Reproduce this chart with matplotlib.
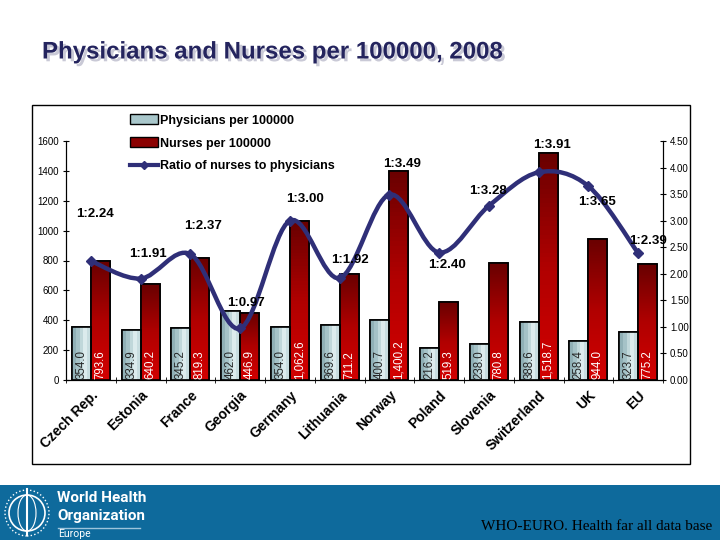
import matplotlib.pyplot as plt
import matplotlib.patheffects as pe
import numpy as np
from matplotlib.patches import Rectangle, Patch, Ellipse, PathPatch
from matplotlib.lines import Line2D
from matplotlib.path import Path
from matplotlib.colors import LinearSegmentedColormap

plt.rcParams['font.family'] = ['Liberation Sans', 'DejaVu Sans']

# ---------------- data ----------------
countries = ['Czech Rep.', 'Estonia', 'France', 'Georgia', 'Germany', 'Lithuania',
             'Norway', 'Poland', 'Slovenia', 'Switzerland', 'UK', 'EU']
physicians = [354.0, 334.9, 345.2, 462.0, 354.0, 369.6, 400.7, 216.2, 238.0, 388.6, 258.4, 323.7]
nurses = [793.6, 640.2, 819.3, 446.9, 1062.6, 711.2, 1400.2, 519.3, 780.8, 1518.7, 944.0, 775.2]
ratio = [2.24, 1.91, 2.37, 0.97, 3.00, 1.92, 3.49, 2.40, 3.28, 3.91, 3.65, 2.39]

# label offsets for ratio labels (pixels, relative to the point)
lab_off = [(4, 47), (7, 25), (13, 28), (6, 25), (15, 22), (10, 18),
           (13, 31), (8, -12), (-1, 15), (13, 27), (9, -16), (10, 12)]

phys_col = '#A9C7CB'
nurse_col = '#A00000'
line_col = '#2F2F78'

fig = plt.figure(figsize=(7.2, 5.4), dpi=100)

# title with light shadow
title = 'Physicians and Nurses per 100000, 2008'
fig.text(42/720, 1 - 52/540, title, fontsize=17.3, fontweight='bold',
         color='#24245E', va='center', ha='left',
         path_effects=[pe.withSimplePatchShadow(offset=(2, -2), shadow_rgbFace='#C9C9D6', alpha=1)])

# chart frame
fig.patches.append(Rectangle((32/720, 1 - 464/540), (690-32)/720, (464-105)/540,
                             transform=fig.transFigure, fill=False, edgecolor='black', lw=1))

ax = fig.add_axes([66/720, 1 - 380/540, (663-66)/720, (380-141)/540])
ax2 = ax.twinx()

x = np.arange(len(countries))
w = 0.38

b1 = ax.bar(x - w/2, physicians, w, color=phys_col, edgecolor='black', lw=1.2, zorder=2)
b2 = ax.bar(x + w/2, nurses, w, color=nurse_col, edgecolor='black', lw=1.2, zorder=2)

# gradient fills clipped to bars
grad_p = np.array([[0.0, 0.3, 0.65, 1.0, 0.75]])
cm_p = LinearSegmentedColormap.from_list('p', ['#90B0B6', '#B4CFD3', '#DCEBED'])
cm_n = LinearSegmentedColormap.from_list('n', ['#D20000', '#B00000', '#6A0000'])
grad_n = np.linspace(0, 1, 50).reshape(-1, 1)
for r in b1:
    im = ax.imshow(grad_p, cmap=cm_p, aspect='auto', origin='lower',
                   extent=(r.get_x(), r.get_x() + r.get_width(), 0, r.get_height()), zorder=2.1)
    im.set_clip_path(r)
for r in b2:
    im = ax.imshow(grad_n, cmap=cm_n, aspect='auto', origin='lower',
                   extent=(r.get_x(), r.get_x() + r.get_width(), 0, r.get_height()), zorder=2.1)
    im.set_clip_path(r)
for r in list(b1) + list(b2):
    ax.add_patch(Rectangle((r.get_x(), 0), r.get_width(), r.get_height(), fill=False,
                           edgecolor='black', lw=1.2, zorder=2.2))
ax.set_xlim(-0.5, len(countries) - 0.5)
ax.set_ylim(0, 1600)
ax2.set_ylim(0, 4.5)

# values inside bars
for xi, v in zip(x, physicians):
    ax.text(xi - w/2, 8, '{:,.1f}'.format(v), rotation=90, ha='center', va='bottom',
            fontsize=8.3, color='#262626', zorder=3)
for xi, v in zip(x, nurses):
    ax.text(xi + w/2, 8, '{:,.1f}'.format(v), rotation=90, ha='center', va='bottom',
            fontsize=8.3, color='white', zorder=3)

# smoothed ratio line (bezier through the points)
pts = np.column_stack([x, ratio]).astype(float)
verts = [pts[0]]
codes = [Path.MOVETO]
n = len(pts)
for i in range(n - 1):
    p0 = pts[i - 1] if i > 0 else pts[i]
    p1 = pts[i]
    p2 = pts[i + 1]
    p3 = pts[i + 2] if i + 2 < n else pts[i + 1]
    c1 = p1 + (p2 - p0) / 6.0
    c2 = p2 - (p3 - p1) / 6.0
    verts += [c1, c2, p2]
    codes += [Path.CURVE4] * 3
ax2.add_patch(PathPatch(Path(verts, codes), fill=False, edgecolor=line_col, lw=3.2,
                        capstyle='round', zorder=4))
ax2.plot(x, ratio, linestyle='none', marker='D', markersize=5, color=line_col, zorder=5)

for xi, r, off in zip(x, ratio, lab_off):
    ax2.annotate('1:{:.2f}'.format(r), (xi, r), xytext=off, textcoords='offset pixels',
                 ha='center', va='center', fontsize=9.5, fontweight='bold', zorder=6)

# axes styling
for a in (ax, ax2):
    a.spines['top'].set_visible(False)
    a.set_facecolor('none')
ax.set_yticks(np.arange(0, 1601, 200))
ax.tick_params(axis='y', labelsize=7, direction='inout', length=4, pad=3)
ax2.set_yticks(np.arange(0, 4.51, 0.5))
ax2.set_yticklabels(['{:.2f}'.format(t) for t in np.arange(0, 4.51, 0.5)])
ax2.tick_params(axis='y', labelsize=7, direction='inout', length=4, pad=3)

ax.set_xticks(x)
ax.set_xticklabels(countries, rotation=45, ha='right', rotation_mode='anchor',
                   fontsize=10, fontweight='bold')
ax.tick_params(axis='x', length=0, pad=6)
ax.set_xticks(np.arange(-0.5, len(countries)), minor=True)
ax.tick_params(axis='x', which='minor', direction='inout', length=5)

# legend
handles = [Patch(facecolor=phys_col, edgecolor='black', label='Physicians per 100000'),
           Patch(facecolor='#8A0000', edgecolor='black', label='Nurses per 100000'),
           Line2D([], [], color=line_col, lw=3, marker='D', markersize=4,
                  label='Ratio of nurses to physicians')]
leg = fig.legend(handles=handles, loc='upper left', bbox_to_anchor=(124/720, 1 - 108/540),
                 frameon=False, prop={'size': 9, 'weight': 'bold'}, handlelength=2.2,
                 handleheight=0.85, labelspacing=0.85, handletextpad=0.15, borderpad=0)

# bottom banner
fig.patches.append(Rectangle((0, 0), 1, 55/540, transform=fig.transFigure,
                             facecolor='#0E6A9C', edgecolor='none'))
# simple emblem
ex, ey = 27/720, 1 - 513/540
fig.patches.append(Ellipse((ex, ey), 36/720, 36/540, transform=fig.transFigure,
                           fill=False, edgecolor='white', lw=1.2))
fig.patches.append(Ellipse((ex, ey), 18/720, 36/540, transform=fig.transFigure,
                           fill=False, edgecolor='white', lw=0.8))
fig.patches.append(Ellipse((ex, ey), 44/720, 46/540, transform=fig.transFigure,
                           fill=False, edgecolor='white', lw=1.0, linestyle=':'))
fig.lines.append(Line2D([ex, ex], [ey - 22/540, ey + 24/540], transform=fig.transFigure,
                        color='white', lw=1.5))
logo_font = ['Liberation Sans Narrow', 'Roboto', 'DejaVu Sans']
fig.text(57/720, 1 - 498/540, 'World Health', color='white', fontsize=11,
         fontfamily=logo_font, fontweight='bold', va='center', ha='left')
fig.text(57/720, 1 - 516/540, 'Organization', color='white', fontsize=11,
         fontfamily=logo_font, fontweight='bold', va='center', ha='left')
fig.lines.append(Line2D([58/720, 140/720], [1 - 528/540] * 2, transform=fig.transFigure,
                        color='#9CC4DC', lw=1))
fig.text(58/720, 1/540, 'Europe', color='white', fontsize=7.5,
         fontfamily=logo_font, va='bottom', ha='left')
fig.text(712/720, 1 - 527/540, 'WHO-EURO. Health far all data base', color='black',
         fontsize=11, fontfamily='Liberation Serif', va='center', ha='right')

fig.savefig('out.png', dpi=100)
